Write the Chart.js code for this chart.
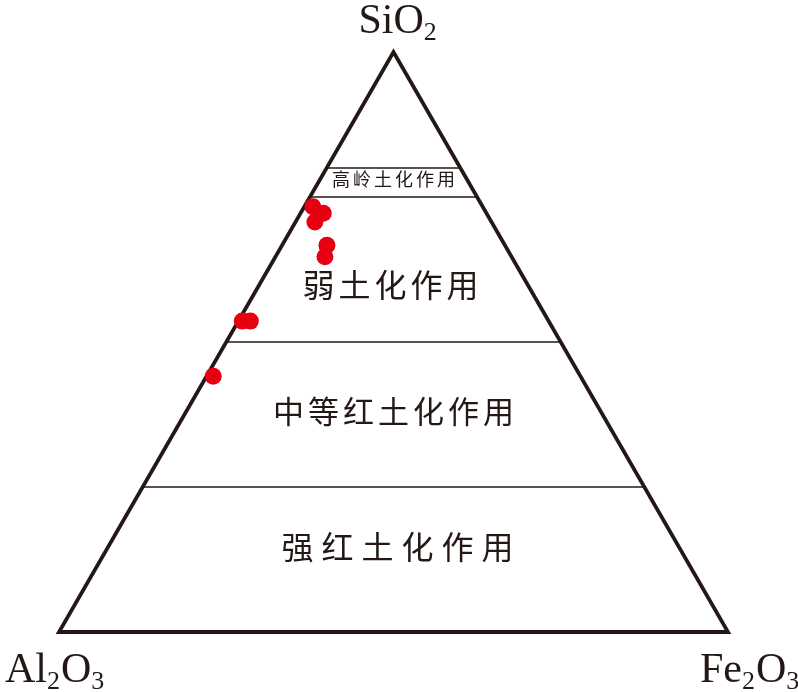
<!DOCTYPE html>
<html>
<head>
<meta charset="utf-8">
<script src="https://cdn.jsdelivr.net/npm/chart.js@4/dist/chart.umd.min.js"></script>
<style>
  html, body { margin: 0; padding: 0; background: #fff; }
  #wrap { width: 798px; height: 692px; }
</style>
</head>
<body>
<div id="wrap"><canvas id="ternary"></canvas></div>
<script>
// Sample compositions (%)
const sio2  = [73.3, 72.2, 70.7, 66.7, 64.7, 53.6, 53.6, 44.1];
const fe2o3 = [1.3, 3.4, 2.9, 6.7, 7.4, 0.6, 1.8, 1.0];
const al2o3 = [25.4, 24.4, 26.4, 26.6, 27.9, 45.8, 44.6, 54.9];

// Zone boundaries (SiO2 %) and zone names, top to bottom
const zoneLevels = [80, 75, 50, 25];
const zoneNames = ['高岭土化作用', '弱土化作用', '中等红土化作用', '强红土化作用'];

const H = Math.sqrt(3) / 2;
const LINE = '#231815';

// ternary -> cartesian (left = Al2O3, right = Fe2O3, top = SiO2)
function toXY(si, al, fe) {
  const t = si + al + fe;
  return { x: (fe + si / 2) / t, y: (si / t) * H };
}

const points = sio2.map((s, i) => toXY(s, al2o3[i], fe2o3[i]));

const triangle = {
  id: 'triangle',
  beforeDatasetsDraw(chart) {
    const { ctx, scales: { x, y } } = chart;
    const px = (p) => [x.getPixelForValue(p.x), y.getPixelForValue(p.y)];
    const A = px(toXY(0, 100, 0));
    const F = px(toXY(0, 0, 100));
    const S = px(toXY(100, 0, 0));

    ctx.save();
    // zone boundaries
    ctx.strokeStyle = LINE;
    ctx.lineWidth = 1.6;
    zoneLevels.forEach(lv => {
      const l = px(toXY(lv, 100 - lv, 0));
      const r = px(toXY(lv, 0, 100 - lv));
      ctx.beginPath();
      ctx.moveTo(l[0], l[1]);
      ctx.lineTo(r[0], r[1]);
      ctx.stroke();
    });

    // outline
    ctx.lineWidth = 3.8;
    ctx.lineJoin = 'miter';
    ctx.beginPath();
    ctx.moveTo(A[0], A[1]);
    ctx.lineTo(F[0], F[1]);
    ctx.lineTo(S[0], S[1]);
    ctx.closePath();
    ctx.stroke();

    // zone labels
    ctx.fillStyle = '#231815';
    ctx.textAlign = 'center';
    ctx.textBaseline = 'middle';
    const labelSi = [78.1, 59.8, 38.1, 14.7];
    const labelSize = [18, 32, 31, 32];
    const labelGap = [3, 4, 4, 8];
    zoneNames.forEach((name, i) => {
      const p = px(toXY(labelSi[i], 100 - labelSi[i], 0));
      const cx = x.getPixelForValue(0.5);
      ctx.font = labelSize[i] + 'px "Noto Sans CJK SC"';
      ctx.letterSpacing = labelGap[i] + 'px';
      ctx.fillText(name, cx + labelGap[i] / 2 + (i === 3 ? 4 : 0) - (i === 1 ? 3 : 0), p[1]);
    });
    ctx.letterSpacing = '0px';

    // vertex labels with subscripts
    function formula(parts, x0, base) {
      ctx.textAlign = 'left';
      ctx.textBaseline = 'alphabetic';
      let cx = x0;
      parts.forEach(([txt, sub]) => {
        ctx.font = (sub ? 26 : 42) + 'px "Liberation Serif"';
        ctx.fillText(txt, cx, base + (sub ? 7 : 0));
        cx += ctx.measureText(txt).width + (sub ? 1 : 0);
      });
    }
    formula([['SiO', 0], ['2', 1]], S[0] - 35, S[1] - 19);
    formula([['Al', 0], ['2', 1], ['O', 0], ['3', 1]], 5, A[1] + 50);
    formula([['Fe', 0], ['2', 1], ['O', 0], ['3', 1]], 700, F[1] + 50);
    ctx.restore();
  }
};

new Chart(document.getElementById('ternary'), {
  type: 'scatter',
  data: {
    datasets: [{
      label: 'samples',
      data: points,
      backgroundColor: '#e60012',
      borderWidth: 0,
      pointRadius: 8.5,
      clip: false
    }]
  },
  options: {
    responsive: true,
    maintainAspectRatio: false,
    animation: false,
    layout: { padding: { left: 59, right: 70, top: 52, bottom: 60 } },
    plugins: { legend: { display: false }, tooltip: { enabled: false } },
    scales: {
      x: { type: 'linear', min: 0, max: 1, display: false },
      y: { type: 'linear', min: 0, max: H, display: false }
    }
  },
  plugins: [triangle]
});
</script>
</body>
</html>
